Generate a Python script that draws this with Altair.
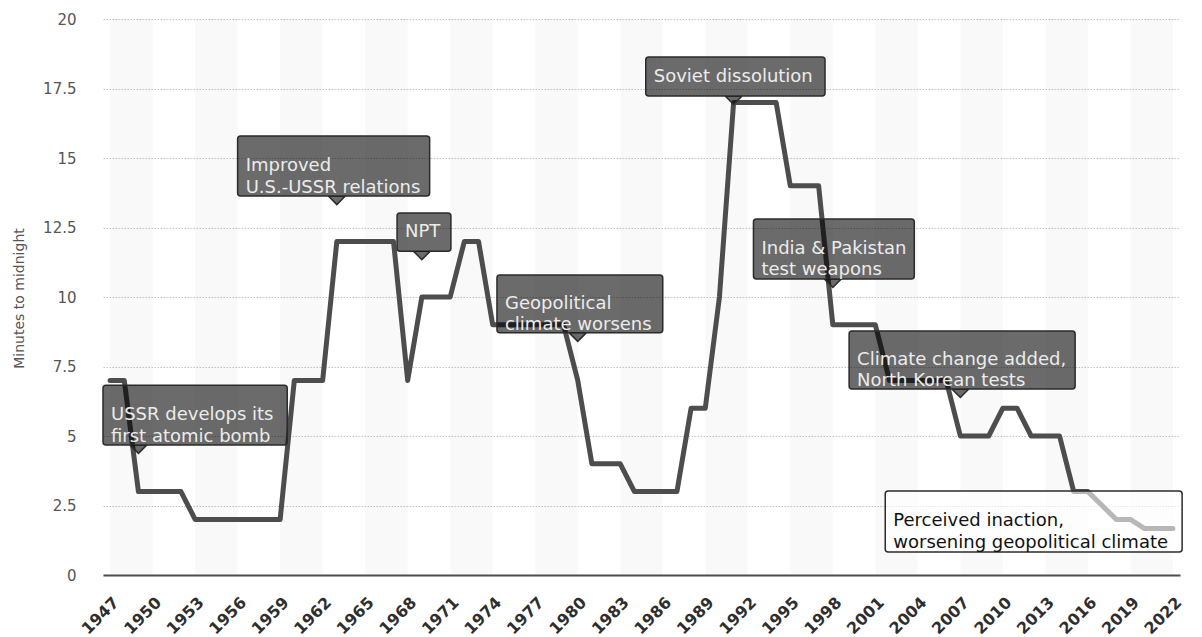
import altair as alt
import pandas as pd

# Doomsday Clock setting, minutes to midnight, one value per year
years = list(range(1947, 2023))
minutes = [
    7, 7, 3, 3, 3, 3,            # 1947-1952
    2, 2, 2, 2, 2, 2, 2,         # 1953-1959
    7, 7, 7,                     # 1960-1962
    12, 12, 12, 12, 12,          # 1963-1967
    7,                           # 1968
    10, 10, 10,                  # 1969-1971
    12, 12,                      # 1972-1973
    9, 9, 9, 9, 9, 9,            # 1974-1979
    7,                           # 1980
    4, 4, 4,                     # 1981-1983
    3, 3, 3, 3,                  # 1984-1987
    6, 6,                        # 1988-1989
    10,                          # 1990
    17, 17, 17, 17,              # 1991-1994
    14, 14, 14,                  # 1995-1997
    9, 9, 9, 9,                  # 1998-2001
    7, 7, 7, 7, 7,               # 2002-2006
    5, 5, 5,                     # 2007-2009
    6, 6,                        # 2010-2011
    5, 5, 5,                     # 2012-2014
    3, 3,                        # 2015-2016
    2.5,                         # 2017
    2, 2,                        # 2018-2019
    1.67, 1.67, 1.67,            # 2020-2022
]

# axis ticks
x_ticks = list(range(1947, 2023, 3))
y_ticks = [0, 2.5, 5, 7.5, 10, 12.5, 15, 17.5, 20]

# shaded stripes every other tick interval
band_start = list(range(1947, 2022, 6))

# event notes
note_text = [
    "USSR develops its\nfirst atomic bomb",
    "Improved\nU.S.-USSR relations",
    "NPT",
    "Geopolitical\nclimate worsens",
    "Soviet dissolution",
    "India & Pakistan\ntest weapons",
    "Climate change added,\nNorth Korean tests",
    "Perceived inaction,\nworsening geopolitical climate",
]
note_year = [1949, 1963, 1969, 1980, 1991, 1998, 2007, 2018]

# callout box placement (data units) and styling
box_x1 = [1946.5, 1956.0, 1967.25, 1974.3, 1984.8, 1992.4, 1999.15, 2001.7]
box_x2 = [1959.5, 1969.55, 1971.05, 1986.0, 1997.45, 2003.75, 2015.1, 2022.65]
box_top = [6.83, 15.79, 13.02, 10.79, 18.63, 12.81, 8.78, 3.02]
box_bot = [4.68, 13.63, 11.65, 8.71, 17.23, 10.65, 6.69, 0.83]
box_fill = ["#000000"] * 7 + ["#ffffff"]
box_alpha = [0.58] * 7 + [0.6]
text_color = ["#ececec"] * 7 + ["#111111"]
has_pointer = [True] * 7 + [False]

FONT = "DejaVu Sans"

series = pd.DataFrame({"year": years, "minutes": minutes})
bands = pd.DataFrame({"start": band_start, "end": [b + 3 for b in band_start]})
notes = pd.DataFrame({
    "text": note_text,
    "year": note_year,
    "x1": box_x1,
    "x2": box_x2,
    "top": box_top,
    "bot": box_bot,
    "mid": [(t + b) / 2 for t, b in zip(box_top, box_bot)],
    "fill": box_fill,
    "alpha": box_alpha,
    "tcolor": text_color,
    "pointer": has_pointer,
})

x_scale = alt.Scale(domain=[1946.5, 2022.5], nice=False, zero=False)
y_scale = alt.Scale(domain=[0, 20], nice=False)

x_axis = alt.Axis(
    values=x_ticks, format="d", title=None,
    labelAngle=-45, labelAlign="right", labelBaseline="top",
    labelPadding=19, labelFont=FONT, labelFontSize=16, labelFontWeight="bold",
    labelColor="#2e2e2e", labelOverlap=False, labelBound=False, labelFlush=False,
    ticks=False, grid=False,
    domain=True, domainColor="#4d4d4d", domainWidth=2,
)
y_axis = alt.Axis(
    values=y_ticks, format=".1~f",
    title="Minutes to midnight", titleFont=FONT, titleFontSize=14,
    titleFontWeight="normal", titleColor="#555555",
    titleX=-84, titleY=279, titleAngle=-90, titleAlign="center", titleBaseline="middle",
    labelFont=FONT, labelFontSize=15, labelColor="#555555", labelPadding=27,
    ticks=False, domain=False,
    grid=True, gridColor="#c4c4c4", gridDash=[1.5, 1.5], gridWidth=1,
)

stripes = alt.Chart(bands).mark_rect(fill="#000000", opacity=0.022).encode(
    x=alt.X("start:Q", scale=x_scale, axis=x_axis),
    x2="end:Q",
    y=alt.datum(0, scale=y_scale, axis=y_axis),
    y2=alt.datum(20),
)

line = alt.Chart(series).mark_line(
    color="#4d4d4d", strokeWidth=5, strokeJoin="round", strokeCap="round"
).encode(
    x=alt.X("year:Q", scale=x_scale),
    y=alt.Y("minutes:Q", scale=y_scale),
)

boxes = alt.Chart(notes).mark_rect(
    cornerRadius=3, stroke="#2b2b2b", strokeWidth=1.5
).encode(
    x=alt.X("x1:Q", scale=x_scale),
    x2="x2:Q",
    y=alt.Y("top:Q", scale=y_scale),
    y2="bot:Q",
    fill=alt.Fill("fill:N", scale=None),
    fillOpacity=alt.FillOpacity("alpha:Q", scale=None),
)

pointers = alt.Chart(notes).transform_filter("datum.pointer").mark_point(
    shape="M-1,0L0,1L1,0", size=289, filled=True, opacity=1,
    fill="#000000", fillOpacity=0.58, stroke="#2b2b2b", strokeWidth=1.5,
).encode(
    x=alt.X("year:Q", scale=x_scale),
    y=alt.Y("bot:Q", scale=y_scale),
)

labels = alt.Chart(notes).mark_text(
    align="left", baseline="middle", dx=8, font=FONT, fontSize=18,
    lineBreak="\n", lineHeight=21.5,
).encode(
    x=alt.X("x1:Q", scale=x_scale),
    y=alt.Y("mid:Q", scale=y_scale),
    text="text:N",
    color=alt.Color("tcolor:N", scale=None),
)

chart = alt.layer(stripes, line, boxes, pointers, labels).properties(
    width=1077, height=556,
    autosize=alt.AutoSizeParams(type="none"),
    padding={"left": 103, "top": 19, "right": 22, "bottom": 62},
    background="#ffffff",
).configure_view(stroke=None)

chart.save("out.html", embed_options={"renderer": "svg", "actions": False})
